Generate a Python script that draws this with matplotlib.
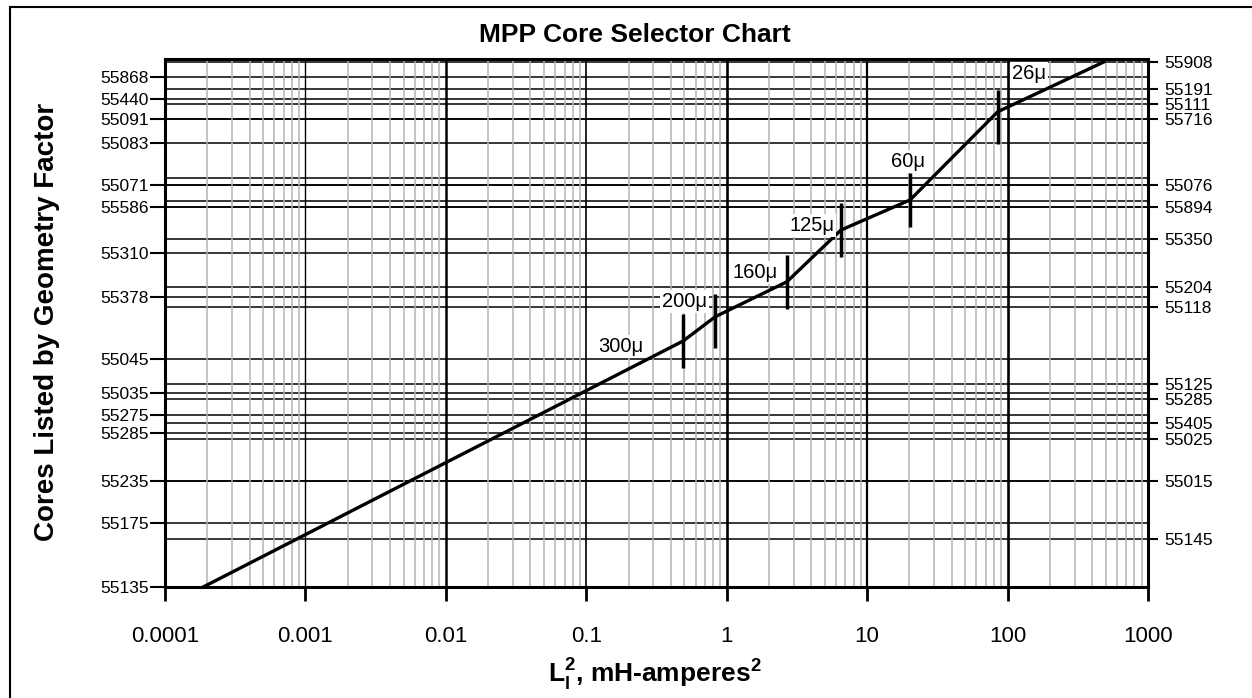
import numpy as np
import matplotlib.pyplot as plt
from matplotlib.patches import Rectangle
from matplotlib.ticker import LogLocator, NullFormatter

plt.rcParams['font.family'] = ['Liberation Sans', 'DejaVu Sans']
plt.rcParams['mathtext.fontset'] = 'custom'
plt.rcParams['mathtext.rm'] = 'Liberation Sans'
plt.rcParams['mathtext.bf'] = 'Liberation Sans:bold'

# core lines: position on the chart (0 = bottom, 100 = top)
left_cores = ['55868', '55440', '55091', '55083', '55071', '55586', '55310', '55378',
              '55045', '55035', '55275', '55285', '55235', '55175', '55135']
left_pos = [96.65, 92.42, 88.64, 84.15, 76.14, 72.03, 63.31, 54.92,
            43.18, 36.80, 32.58, 29.17, 20.13, 12.18, 0.0]
right_cores = ['55908', '55191', '55111', '55716', '55076', '55894', '55350', '55204',
               '55118', '55125', '55285', '55405', '55025', '55015', '55145']
right_pos = [99.49, 94.32, 91.42, 88.64, 76.14, 72.03, 65.91, 56.82,
             53.03, 38.39, 35.66, 31.12, 28.09, 20.13, 9.15]
other_pos = [77.41, 73.11]

# selector curve (LI^2 in mH-A^2)
curve_x = [1.87e-4, 0.49, 0.83, 2.68, 6.5, 20.2, 85, 490]
curve_y = [0.0, 46.6, 51.2, 57.8, 67.6, 73.3, 90.0, 99.5]

# permeability break points
perm_labels = ['300μ', '200μ', '160μ', '125μ', '60μ', '26μ']
perm_x = [0.49, 0.83, 2.68, 6.5, 20.2, 85]
perm_y = [46.6, 50.4, 57.8, 67.6, 73.3, 89.0]
text_x = [0.175, 0.498, 1.585, 4.03, 19.4, 142]
text_y = [45.6, 54.0, 59.5, 68.4, 80.5, 97.3]

decades = [1e-4, 1e-3, 1e-2, 1e-1, 1, 10, 100, 1000]
decade_labels = ['0.0001', '0.001', '0.01', '0.1', '1', '10', '100', '1000']

fig = plt.figure(figsize=(12.52, 6.98), dpi=100)
ax = fig.add_axes([165/1252, 111/698, 983/1252, 528/698])
ax.set_xscale('log')
ax.set_xlim(1e-4, 1e3)
ax.set_ylim(0, 100)

# grid
ax.xaxis.set_minor_locator(LogLocator(base=10, subs=np.arange(2, 10)))
ax.xaxis.set_minor_formatter(NullFormatter())
ax.grid(which='minor', axis='x', color='#b4b4b4', lw=1.1, zorder=0)
for d, w in zip(decades[1:-1], [1.0, 1.8, 1.2, 1.9, 1.6, 1.9]):
    ax.axvline(d, color='black', lw=w, zorder=1)
ax.hlines(left_pos + right_pos + other_pos, 1e-4, 1e3, color='black', lw=1.1, zorder=1)

# curve and markers
ax.plot(curve_x, curve_y, color='black', lw=2.4, zorder=3, solid_joinstyle='round')
ax.vlines(perm_x, np.array(perm_y) - 5.1, np.array(perm_y) + 5.1, color='black', lw=2.5, zorder=3)
for lab, tx, ty in zip(perm_labels, text_x, text_y):
    ax.text(tx, ty, lab, ha='center', va='center', fontsize=14.5, zorder=4,
            bbox=dict(facecolor='white', edgecolor='none', pad=1.5))

# axes ticks
ax.set_xticks(decades, decade_labels)
ax.tick_params(axis='x', which='major', length=10, width=2, pad=18, labelsize=16)
ax.tick_params(axis='x', which='minor', length=0)
ax.set_yticks(left_pos, left_cores)
ax.tick_params(axis='y', length=10.5, width=1.5, pad=1, labelsize=12.5)
for s in ax.spines.values():
    s.set_linewidth(2.2)
    s.set_zorder(5)

twin = ax.twinx()
twin.set_ylim(0, 100)
twin.set_yticks(right_pos, right_cores)
twin.tick_params(axis='y', length=7, width=1.5, pad=5, labelsize=12.5)
for s in twin.spines.values():
    s.set_visible(False)

# titles
fig.text(635/1252, 1 - 35/698, 'MPP Core Selector Chart', ha='center', va='center',
         fontsize=19, fontweight='bold')
fig.text(47/1252, 1 - 322/698, 'Cores Listed by Geometry Factor', ha='center', va='center',
         rotation=90, fontsize=20, fontweight='bold')
fig.text(655/1252, 1 - 674/698, r'$\mathbf{L}_\mathbf{l}^\mathbf{2}$, mH-amperes$^\mathbf{2}$',
         ha='center', va='center', fontsize=19, fontweight='bold')

# outer frame
fig.add_artist(Rectangle((10/1252, -0.05), 1.1, 1.05 - 7/698, transform=fig.transFigure,
                         fill=False, edgecolor='black', lw=1.5, clip_on=False))

fig.savefig('out.png', dpi=100)
